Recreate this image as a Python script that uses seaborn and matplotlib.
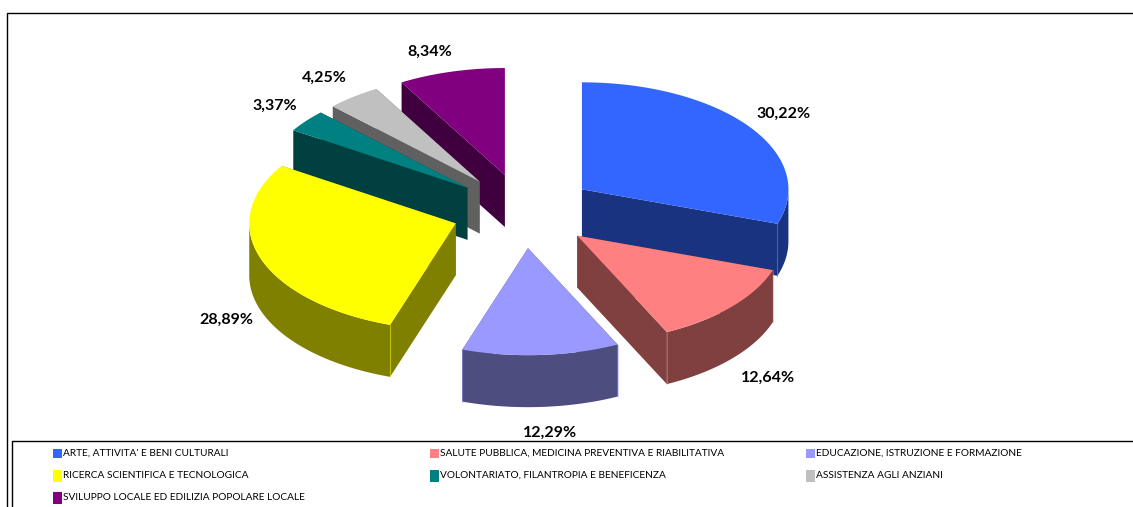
import numpy as np
import matplotlib
matplotlib.use("Agg")
import matplotlib.pyplot as plt
import seaborn as sns

# values (percent)
categories = [
    "ARTE, ATTIVITA' E BENI CULTURALI",
    "SALUTE PUBBLICA, MEDICINA PREVENTIVA E RIABILITATIVA",
    "EDUCAZIONE, ISTRUZIONE E FORMAZIONE",
    "RICERCA SCIENTIFICA E TECNOLOGICA",
    "VOLONTARIATO, FILANTROPIA E BENEFICENZA",
    "ASSISTENZA AGLI ANZIANI",
    "SVILUPPO LOCALE ED EDILIZIA POPOLARE LOCALE",
]
values = [30.22, 12.64, 12.29, 28.89, 3.37, 4.25, 8.34]
top_colors = ["#3366FF", "#FF8080", "#9999FF", "#FFFF00", "#008080", "#C0C0C0", "#800080"]

W, H = 1133, 507

# pie geometry, in pixels
CX, CY = 523.5, 211
RX, RY = 206.5, 107
DEPTH = 52
EXPLODE = 0.348
LABEL_R = 1.2
label_nudge = [(0, -1), (5, 5), (7, 4), (4, 2), (1, -2), (-4, -2), (-11, 1)]

sns.set_theme(style="white")
plt.rcParams["font.family"] = ["Lato", "DejaVu Sans"]

fig = plt.figure(figsize=(W / 100, H / 100), dpi=100)
ax = fig.add_axes([0, 0, 1, 1])
ax.set_xlim(0, W)
ax.set_ylim(H, 0)
ax.axis("off")


def rim(angles):
    # clockwise from 12 o'clock, y pointing down
    return RX * np.sin(angles), -RY * np.cos(angles)


def shade(color):
    return tuple(c * 0.5 for c in matplotlib.colors.to_rgb(color))


edges = np.radians(np.concatenate([[0], np.cumsum(values)]) * 3.6)
slices = []
for i in range(len(values)):
    mid = (edges[i] + edges[i + 1]) / 2
    mx, my = rim(mid)
    slices.append((my, i, mx, my))

# back to front, so nearer slices paint over the ones behind
for _, i, mx, my in sorted(slices):
    ox = CX + EXPLODE * mx
    oy = CY + EXPLODE * my
    t = np.linspace(edges[i], edges[i + 1], 300)
    rx, ry = rim(t)
    arc_x, arc_y = ox + rx, oy + ry
    dark = shade(top_colors[i])

    # outer wall: only the part of the rim that faces the viewer
    front = np.cos(t) <= 0
    if front.any():
        fx, fy = arc_x[front], arc_y[front]
        ax.fill(np.r_[fx, fx[::-1]], np.r_[fy, fy[::-1] + DEPTH], color=dark, lw=0)

    # radial cuts pushed down by DEPTH
    for k in (0, -1):
        ax.fill([ox, arc_x[k], arc_x[k], ox],
                [oy, arc_y[k], arc_y[k] + DEPTH, oy + DEPTH], color=dark, lw=0)

    # thin seam down the visible corners
    seam = matplotlib.colors.to_rgba(top_colors[i], 0.45)
    for k in (0, -1):
        if arc_y[k] > oy:
            ax.plot([arc_x[k], arc_x[k]], [arc_y[k], arc_y[k] + DEPTH], color=seam, lw=0.8)

    ax.fill(np.r_[ox, arc_x], np.r_[oy, arc_y], color=top_colors[i], lw=0)

    # percent label just outside the slice, below the wall on the front half
    lx = ox + LABEL_R * mx + label_nudge[i][0]
    ly = oy + LABEL_R * my + (DEPTH if my > 0 else 0) + label_nudge[i][1]
    ax.text(lx, ly, f"{values[i]:.2f}%".replace(".", ","), ha="center", va="center",
            fontsize=11.5, fontweight="bold", color="black")

# chart frame and legend box, both run off the edge of the image
ax.plot([6.5, 6.5, W], [H, 12.5, 12.5], color="black", lw=1)
ax.plot([11.5, 11.5, W], [H, 440.5, 440.5], color="black", lw=1)

# legend, filled row by row
col_x = [53, 430, 806]
row_y = [453.5, 475.5, 497.5]
swatch_h = [9, 12, 12]
for i, (name, color) in enumerate(zip(categories, top_colors)):
    row, col = divmod(i, 3)
    ax.fill_between([col_x[col], col_x[col] + 9], row_y[row] - swatch_h[row] / 2,
                    row_y[row] + swatch_h[row] / 2, color=color, lw=0)
    ax.text(col_x[col] + 10, row_y[row], name, ha="left", va="center",
            fontsize=7.3, color="black")

fig.savefig("out.png", dpi=100, facecolor="white")
